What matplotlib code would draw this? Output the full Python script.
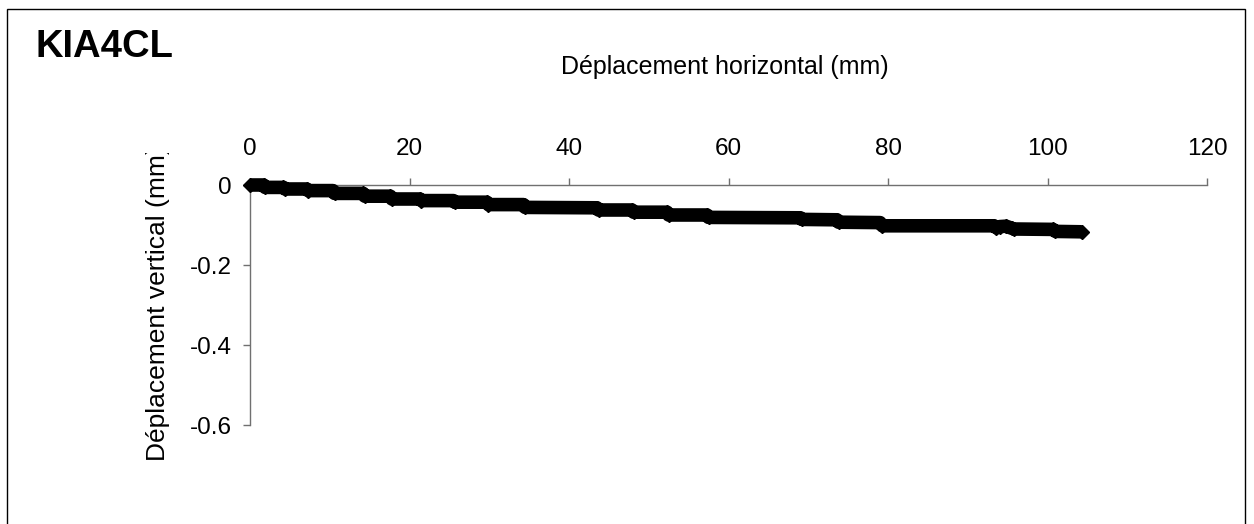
import matplotlib
matplotlib.use("Agg")
import matplotlib.pyplot as plt
from matplotlib.patches import Rectangle
from matplotlib.transforms import Bbox

plt.rcParams['font.family'] = ['Liberation Sans', 'DejaVu Sans']

horizontal_mm = [0.0, 1.7, 1.9, 4.2, 4.4, 7.1, 7.3, 10.4, 10.6, 14.2, 14.4, 17.6,
                 17.8, 21.3, 21.5, 25.5, 25.7, 29.7, 29.9, 34.3, 34.5, 43.5, 43.7,
                 47.9, 48.1, 52.3, 52.5, 57.3, 57.5, 69.0, 69.2, 73.6, 73.8, 79.0,
                 79.3, 93.3, 93.6, 94.0, 94.8, 95.5, 95.8, 100.7, 101.0, 104.3]
vertical_mm = [0.0, 0.0, -0.006, -0.006, -0.010, -0.010, -0.014, -0.014, -0.021,
               -0.021, -0.028, -0.028, -0.035, -0.035, -0.039, -0.039, -0.043,
               -0.043, -0.049, -0.049, -0.056, -0.057, -0.0625, -0.0625, -0.068,
               -0.068, -0.075, -0.075, -0.081, -0.082, -0.086, -0.087, -0.093,
               -0.094, -0.102, -0.102, -0.107, -0.104, -0.103, -0.108, -0.110,
               -0.111, -0.116, -0.117]

x_ticks = [0, 20, 40, 60, 80, 100, 120]
y_ticks = [0, -0.2, -0.4, -0.6]
y_tick_labels = ['0', '-0.2', '-0.4', '-0.6']

title = 'KIA4CL'
x_title = 'Déplacement horizontal (mm)'
y_title = 'Déplacement vertical (mm)'

W, H = 1254, 524
fig = plt.figure(figsize=(W / 100, H / 100), dpi=100)
fig.patch.set_facecolor('white')

# outer chart border (bottom edge lies beyond the image)
fig.patches.append(Rectangle((7 / W, -0.05), (1245 - 7) / W, 1.05 - 9 / H,
                             transform=fig.transFigure, fill=False,
                             edgecolor='black', linewidth=1.0))

ax = fig.add_axes([250 / W, 1 - 425 / H, (1207 - 250) / W, (425 - 185) / H])
ax.set_facecolor('none')
ax.set_xlim(0, 120)
ax.set_ylim(-0.6, 0)

axis_color = '#707070'
for s in ['bottom', 'right']:
    ax.spines[s].set_visible(False)
for s in ['top', 'left']:
    ax.spines[s].set_color(axis_color)
    ax.spines[s].set_linewidth(1.0)

ax.xaxis.tick_top()
ax.set_xticks(x_ticks)
ax.set_xticklabels([str(v) for v in x_ticks])
ax.set_yticks(y_ticks)
ax.set_yticklabels(y_tick_labels)
ax.tick_params(axis='x', direction='out', length=5, width=1.0, color=axis_color,
               labelsize=17.5, pad=13, top=True, bottom=False)
ax.tick_params(axis='y', direction='out', length=5, width=1.0, color=axis_color,
               labelsize=17.5, pad=8)

ax.plot(horizontal_mm, vertical_mm, color='black', linewidth=9.8,
        solid_capstyle='butt', solid_joinstyle='round',
        marker='D', markersize=7, markerfacecolor='black',
        markeredgecolor='black', clip_on=False, zorder=3)

fig.text(36 / W, 1 - 57 / H, title, fontsize=27.5, fontweight='bold',
         ha='left', va='baseline')
fig.text(725 / W, 1 - 67 / H, x_title, fontsize=18, ha='center', va='center')
yl = fig.text(158 / W, 1 - 303 / H, y_title, fontsize=19, rotation=90,
              ha='center', va='center')
clip = Bbox.from_extents(0, 0, W, H - 153)
yl.set_clip_box(clip)
yl.set_clip_on(True)

fig.savefig('out.png', dpi=100, facecolor='white')
